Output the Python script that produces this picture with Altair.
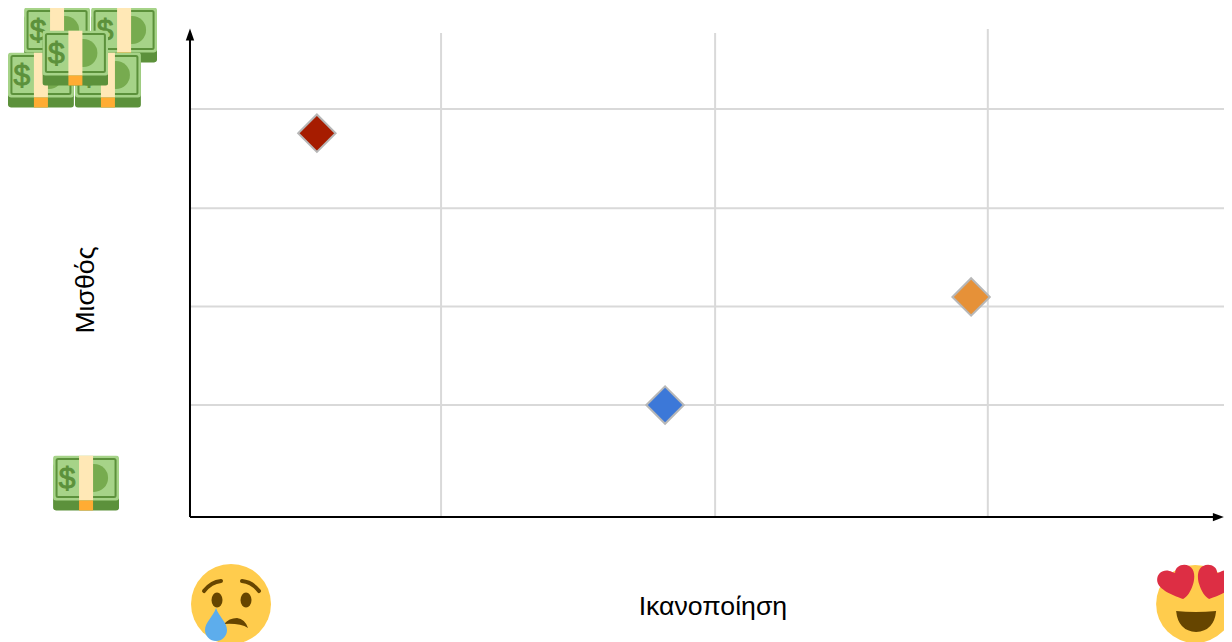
import base64
import altair as alt
import pandas as pd

# Values, in chart units (x: satisfaction, y: salary)
point_x = [0.464, 1.737, 2.856]
point_y = [3.89, 1.135, 2.23]
point_colors = ["#a61c00", "#3c78d8", "#e69138"]

vgrid_x = [0.918, 1.92, 2.917]
vgrid_top = [4.905, 4.905, 4.945]
hgrid_y = [1.135, 2.133, 3.13, 4.135]
hgrid_right = [3.81, 3.81, 3.81, 3.79]

x_title = "Ικανοποίηση"
y_title = "Μισθός"

money_x = [-0.486, -0.241, -0.545, -0.30, -0.419, -0.38]
money_y = [4.88, 4.88, 4.424, 4.424, 4.647, 0.34]
face_x = [0.15, 3.675]
face_y = [-0.882, -0.882]

X_DOMAIN = [-0.6654, 3.7806]
Y_DOMAIN = [-1.2668, 5.1586]


def uri(svg):
    return "data:image/svg+xml;base64," + base64.b64encode(svg.encode("utf-8")).decode()


MONEY = uri(
    '<svg xmlns="http://www.w3.org/2000/svg" width="66" height="56" viewBox="0 0 66 56">'
    '<rect x="0" y="8" width="66" height="47" rx="3" fill="#5c913b"/>'
    '<rect x="0" y="0" width="66" height="45" rx="3" fill="#a6d388"/>'
    '<rect x="3.5" y="3.5" width="59" height="38" rx="1.5" fill="none" stroke="#5c913b" stroke-width="2"/>'
    '<circle cx="41" cy="22.5" r="14" fill="#77ab4f"/>'
    '<rect x="26" y="0" width="14" height="45" fill="#ffe8b6"/>'
    '<rect x="26" y="45" width="14" height="10" fill="#ffac33"/>'
    '<text x="14" y="33" font-family="Liberation Sans" font-size="30" text-anchor="middle" fill="#5c913b" stroke="#5c913b" stroke-width="0.9">$</text>'
    "</svg>"
)

SAD = uri(
    '<svg xmlns="http://www.w3.org/2000/svg" width="82" height="82" viewBox="-41 -41 82 82">'
    '<circle r="40" fill="#ffcc4d"/>'
    '<ellipse cx="-14" cy="-4" rx="5.5" ry="7.5" fill="#664500"/>'
    '<ellipse cx="15" cy="-4" rx="5.5" ry="7.5" fill="#664500"/>'
    '<path d="M-27 -13 Q-20 -22 -10 -23" fill="none" stroke="#664500" stroke-width="4" stroke-linecap="round"/>'
    '<path d="M11 -23 Q21 -22 28 -13" fill="none" stroke="#664500" stroke-width="4" stroke-linecap="round"/>'
    '<path d="M-7 20 Q-2 14 6 14 Q14 15 17 24 Q9 19 -7 20 Z" fill="#664500"/>'
    '<path d="M-15 4 C-12 13 -4 18 -4 26 A11 11 0 0 1 -26 26 C-26 18 -18 13 -15 4 Z" fill="#5dadec"/>'
    "</svg>"
)

HEART = uri(
    '<svg xmlns="http://www.w3.org/2000/svg" width="86" height="86" viewBox="-43 -43 86 86">'
    '<circle r="39" fill="#ffcc4d"/>'
    '<path d="M-12 -5 C-20 -8 -38 -14 -38 -24 C-38 -32 -30 -36 -23 -32 L-20 -31 C-20 -38 -12 -41 -6 -38 C0 -35 0 -26 -2 -20 C-4 -13 -8 -7 -12 -5 Z" fill="#dd2e44"/>'
    '<path d="M14 -5 C22 -8 40 -14 40 -24 C40 -32 32 -36 25 -32 L22 -31 C22 -38 14 -41 8 -38 C2 -35 2 -26 4 -20 C6 -13 10 -7 14 -5 Z" fill="#dd2e44"/>'
    '<path d="M-19 7 Q0 9 21 7 Q19 27 1 28 Q-17 27 -19 7 Z" fill="#664500"/>'
    "</svg>"
)

xs = alt.Scale(domain=X_DOMAIN, nice=False, zero=False)
ys = alt.Scale(domain=Y_DOMAIN, nice=False, zero=False)


def X(f="x"):
    return alt.X(f"{f}:Q", scale=xs, axis=None)


def Y(f="y"):
    return alt.Y(f"{f}:Q", scale=ys, axis=None)


GRID = "#d9d9d9"

vgrid = alt.Chart(pd.DataFrame({"x": vgrid_x, "y": [0] * 3, "y2": vgrid_top})).mark_rule(
    color=GRID, strokeWidth=2
).encode(x=X(), y=Y(), y2="y2:Q")

hgrid = alt.Chart(pd.DataFrame({"y": hgrid_y, "x": [0] * 4, "x2": hgrid_right})).mark_rule(
    color=GRID, strokeWidth=2
).encode(x=X(), x2="x2:Q", y=Y())

x_axis = alt.Chart(pd.DataFrame({"x": [0], "x2": [3.76], "y": [0]})).mark_rule(
    color="#000000", strokeWidth=2
).encode(x=X(), x2="x2:Q", y=Y())

y_axis = alt.Chart(pd.DataFrame({"x": [0], "y": [0], "y2": [4.88]})).mark_rule(
    color="#000000", strokeWidth=2
).encode(x=X(), y=Y(), y2="y2:Q")

arrow_up = alt.Chart(pd.DataFrame({"x": [0], "y": [4.89]})).mark_point(
    shape="M0 -1 L0.7 1 L-0.7 1 Z", filled=True, color="#000000", size=144, opacity=1
).encode(x=X(), y=Y())

arrow_right = alt.Chart(pd.DataFrame({"x": [3.76], "y": [0]})).mark_point(
    shape="M1 0 L-1 0.75 L-1 -0.75 Z", filled=True, color="#000000", size=121, opacity=1
).encode(x=X(), y=Y())

points = alt.Chart(pd.DataFrame({"x": point_x, "y": point_y, "c": point_colors})).mark_point(
    shape="diamond", filled=True, size=1400, stroke="#b7b7b7", strokeWidth=2, opacity=1
).encode(x=X(), y=Y(), fill=alt.Fill("c:N", scale=None))

money = alt.Chart(pd.DataFrame({"x": money_x, "y": money_y, "u": [MONEY] * 6})).mark_image(
    width=66, height=56
).encode(x=X(), y=Y(), url="u:N")

faces = alt.Chart(pd.DataFrame({"x": face_x[:1], "y": face_y[:1], "u": [SAD]})).mark_image(
    width=82, height=82
).encode(x=X(), y=Y(), url="u:N")

faces2 = alt.Chart(pd.DataFrame({"x": face_x[1:], "y": face_y[1:], "u": [HEART]})).mark_image(
    width=86, height=86
).encode(x=X(), y=Y(), url="u:N")

xt = alt.Chart(pd.DataFrame({"x": [1.912], "y": [-0.91], "t": [x_title]})).mark_text(
    font="Liberation Sans", fontSize=26.67, color="#000000"
).encode(x=X(), y=Y(), text="t:N")

yt = alt.Chart(pd.DataFrame({"x": [-0.38], "y": [2.30], "t": [y_title]})).mark_text(
    font="Liberation Sans", fontSize=26.67, color="#000000", angle=270
).encode(x=X(), y=Y(), text="t:N")

chart = (
    alt.layer(vgrid, hgrid, x_axis, y_axis, arrow_up, arrow_right, points, money, faces, faces2, xt, yt)
    .properties(width=1216, height=634, padding=0, autosize=alt.AutoSizeParams(type="none"), background="#ffffff")
    .configure_view(stroke=None)
)

chart.save("out.html", embed_options={"renderer": "svg", "actions": False})
